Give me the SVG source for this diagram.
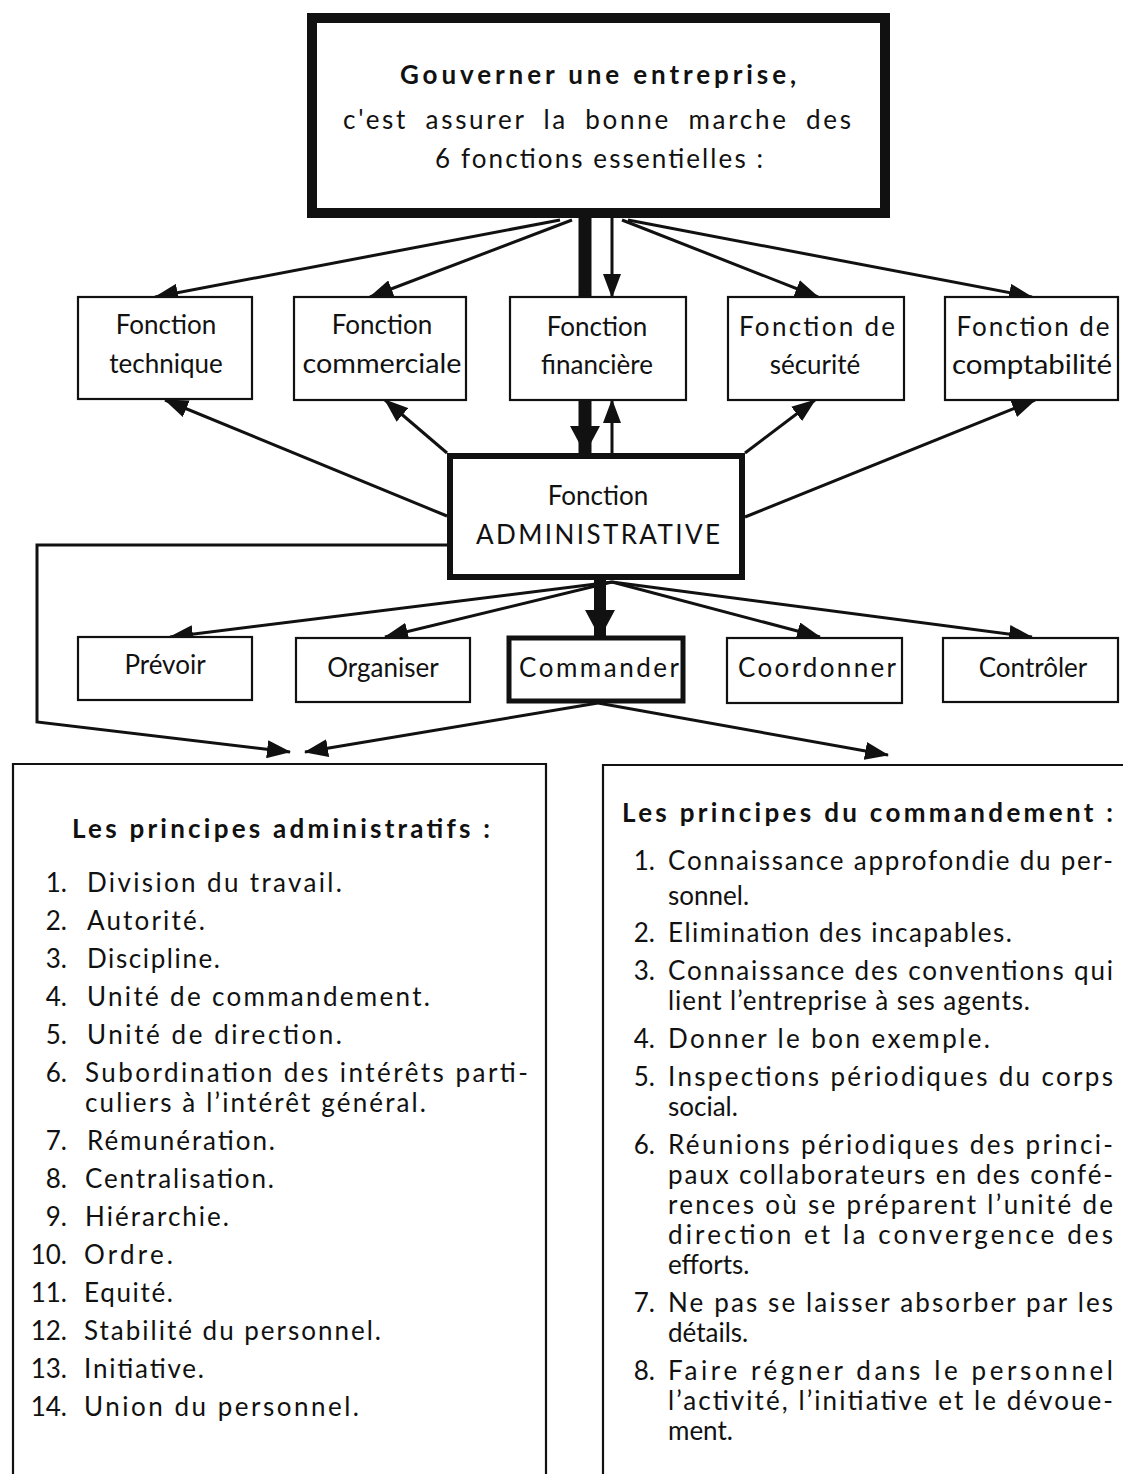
<svg xmlns="http://www.w3.org/2000/svg" width="1123" height="1474" viewBox="0 0 1123 1474">
<defs>
<style>
text{font-family:Lato,"Liberation Sans",sans-serif;fill:#111;font-size:26px}
.b{font-weight:bold}
.c{text-anchor:middle}
.n{text-anchor:end}
.box{fill:#fff;stroke:#111;stroke-width:2.2}
.thick{fill:#fff;stroke:#111;stroke-width:6}
.ln{fill:none;stroke:#111;stroke-width:3}
</style>
<marker id="ah" markerUnits="userSpaceOnUse" markerWidth="24" markerHeight="18" refX="23" refY="9" orient="auto"><path d="M0,0 L24,9 L0,18 z" fill="#111"/></marker>
<marker id="ahT" markerUnits="userSpaceOnUse" markerWidth="28" markerHeight="30" refX="27" refY="15" orient="auto"><path d="M0,0 L28,15 L0,30 z" fill="#111"/></marker>
</defs>
<rect width="1123" height="1474" fill="#fff"/>

<g id="connectors">
<line class="ln" x1="560" y1="220" x2="155" y2="297" marker-end="url(#ah)"/>
<line class="ln" x1="572" y1="220" x2="370" y2="297" marker-end="url(#ah)"/>
<line class="ln" x1="585" y1="218" x2="585" y2="453" style="stroke-width:13" marker-end="url(#ahT)"/>
<line class="ln" x1="612" y1="218" x2="612" y2="297" marker-end="url(#ah)"/>
<line class="ln" x1="612" y1="453" x2="612" y2="400" marker-end="url(#ah)"/>
<line class="ln" x1="622" y1="220" x2="818" y2="297" marker-end="url(#ah)"/>
<line class="ln" x1="628" y1="220" x2="1032" y2="297" marker-end="url(#ah)"/>
<line class="ln" x1="447" y1="516" x2="165" y2="400" marker-end="url(#ah)"/>
<line class="ln" x1="447" y1="453" x2="385" y2="400" marker-end="url(#ah)"/>
<line class="ln" x1="745" y1="453" x2="815" y2="400" marker-end="url(#ah)"/>
<line class="ln" x1="745" y1="517" x2="1035" y2="400" marker-end="url(#ah)"/>
<line class="ln" x1="600" y1="580" x2="600" y2="637" style="stroke-width:12" marker-end="url(#ahT)"/>
<line class="ln" x1="612" y1="582" x2="170" y2="637" marker-end="url(#ah)"/>
<line class="ln" x1="612" y1="582" x2="385" y2="637" marker-end="url(#ah)"/>
<line class="ln" x1="612" y1="582" x2="820" y2="637" marker-end="url(#ah)"/>
<line class="ln" x1="612" y1="582" x2="1032" y2="637" marker-end="url(#ah)"/>
<path class="ln" d="M447,545 H37 V722 L290,752" marker-end="url(#ah)"/>
<line class="ln" x1="598" y1="703" x2="305" y2="752" marker-end="url(#ah)"/>
<line class="ln" x1="598" y1="703" x2="888" y2="755" marker-end="url(#ah)"/>
</g>

<g id="top">
<rect x="312" y="18" width="573" height="195" fill="#fff" stroke="#111" stroke-width="10"/>
<text class="b" x="400" y="84" textLength="396" lengthAdjust="spacing">Gouverner une entreprise,</text>
<text x="343" y="129" textLength="508" lengthAdjust="spacing" style="word-spacing:8px">c'est assurer la bonne marche des</text>
<text x="435" y="168" textLength="328" lengthAdjust="spacing">6 fonctions essentielles :</text>
</g>

<g id="f-technique">
<rect class="box" x="78" y="297" width="174" height="102"/>
<text class="c" x="166" y="334">Fonction</text>
<text class="c" x="166" y="373">technique</text>
</g>
<g id="f-commerciale">
<rect class="box" x="294" y="297" width="172" height="103"/>
<text class="c" x="382" y="334">Fonction</text>
<text class="c" x="382" y="373" textLength="159" lengthAdjust="spacingAndGlyphs">commerciale</text>
</g>
<g id="f-financiere">
<rect class="box" x="510" y="297" width="176" height="103"/>
<text class="c" x="597" y="336">Fonction</text>
<text class="c" x="597" y="374">financière</text>
</g>
<g id="f-securite">
<rect class="box" x="728" y="297" width="176" height="103"/>
<text class="c" x="817" y="336" textLength="156" lengthAdjust="spacing">Fonction de</text>
<text class="c" x="815" y="374">sécurité</text>
</g>
<g id="f-comptabilite">
<rect class="box" x="945" y="297" width="173" height="103"/>
<text class="c" x="1033" y="336" textLength="153" lengthAdjust="spacing">Fonction de</text>
<text class="c" x="1032" y="374" textLength="160" lengthAdjust="spacingAndGlyphs">comptabilité</text>
</g>

<g id="admin">
<rect class="thick" x="450" y="456" width="292" height="121"/>
<text class="c" x="598" y="505">Fonction</text>
<text class="c" x="598" y="544" textLength="244" lengthAdjust="spacing">ADMINISTRATIVE</text>
</g>

<g id="prevoir">
<rect class="box" x="78" y="637" width="174" height="63"/>
<text class="c" x="165" y="674">Prévoir</text>
</g>
<g id="organiser">
<rect class="box" x="296" y="638" width="174" height="64"/>
<text class="c" x="383" y="677">Organiser</text>
</g>
<g id="commander">
<rect x="509" y="638" width="174" height="63" fill="#fff" stroke="#111" stroke-width="5"/>
<text class="c" x="599" y="677" textLength="160" lengthAdjust="spacing">Commander</text>
</g>
<g id="coordonner">
<rect class="box" x="727" y="638" width="175" height="65"/>
<text class="c" x="817" y="677" textLength="158" lengthAdjust="spacing">Coordonner</text>
</g>
<g id="controler">
<rect class="box" x="943" y="638" width="175" height="64"/>
<text class="c" x="1033" y="677">Contrôler</text>
</g>

<g id="principes-administratifs">
<path d="M13,1480 V764 H546 V1480" fill="none" stroke="#111" stroke-width="2.2"/>
<text class="b" x="72" y="838" textLength="418" lengthAdjust="spacing">Les principes administratifs :</text>
<text class="n" x="67" y="892">1.</text><text x="87" y="892" textLength="255" lengthAdjust="spacing">Division du travail.</text>
<text class="n" x="67" y="930">2.</text><text x="87" y="930" textLength="118" lengthAdjust="spacing">Autorité.</text>
<text class="n" x="67" y="968">3.</text><text x="87" y="968" textLength="133" lengthAdjust="spacing">Discipline.</text>
<text class="n" x="67" y="1006">4.</text><text x="87" y="1006" textLength="343" lengthAdjust="spacing">Unité de commandement.</text>
<text class="n" x="67" y="1044">5.</text><text x="87" y="1044" textLength="255" lengthAdjust="spacing">Unité de direction.</text>
<text class="n" x="67" y="1082">6.</text><text x="85" y="1082" textLength="443" lengthAdjust="spacing">Subordination des intérêts parti-</text>
<text x="85" y="1112" textLength="341" lengthAdjust="spacing">culiers à l’intérêt général.</text>
<text class="n" x="67" y="1150">7.</text><text x="87" y="1150" textLength="188" lengthAdjust="spacing">Rémunération.</text>
<text class="n" x="67" y="1188">8.</text><text x="85" y="1188" textLength="189" lengthAdjust="spacing">Centralisation.</text>
<text class="n" x="67" y="1226">9.</text><text x="85" y="1226" textLength="144" lengthAdjust="spacing">Hiérarchie.</text>
<text class="n" x="67" y="1264">10.</text><text x="84" y="1264" textLength="89" lengthAdjust="spacing">Ordre.</text>
<text class="n" x="67" y="1302">11.</text><text x="84" y="1302" textLength="89" lengthAdjust="spacing">Equité.</text>
<text class="n" x="67" y="1340">12.</text><text x="84" y="1340" textLength="297" lengthAdjust="spacing">Stabilité du personnel.</text>
<text class="n" x="67" y="1378">13.</text><text x="84" y="1378" textLength="120" lengthAdjust="spacing">Initiative.</text>
<text class="n" x="67" y="1416">14.</text><text x="84" y="1416" textLength="275" lengthAdjust="spacing">Union du personnel.</text>
</g>

<g id="principes-commandement">
<path d="M603,1480 V765 H1130" fill="none" stroke="#111" stroke-width="2.2"/>
<text class="b" x="622" y="822" textLength="491" lengthAdjust="spacing">Les principes du commandement :</text>
<text class="n" x="655" y="870">1.</text><text x="668" y="870" textLength="445" lengthAdjust="spacing">Connaissance approfondie du per-</text>
<text x="668" y="905">sonnel.</text>
<text class="n" x="655" y="942">2.</text><text x="668" y="942" textLength="344" lengthAdjust="spacing">Elimination des incapables.</text>
<text class="n" x="655" y="980">3.</text><text x="668" y="980" textLength="445" lengthAdjust="spacing">Connaissance des conventions qui</text>
<text x="668" y="1010" textLength="362" lengthAdjust="spacing">lient l’entreprise à ses agents.</text>
<text class="n" x="655" y="1048">4.</text><text x="668" y="1048" textLength="322" lengthAdjust="spacing">Donner le bon exemple.</text>
<text class="n" x="655" y="1086">5.</text><text x="668" y="1086" textLength="445" lengthAdjust="spacing">Inspections périodiques du corps</text>
<text x="668" y="1116">social.</text>
<text class="n" x="655" y="1154">6.</text><text x="668" y="1154" textLength="445" lengthAdjust="spacing">Réunions périodiques des princi-</text>
<text x="668" y="1184" textLength="445" lengthAdjust="spacing">paux collaborateurs en des confé-</text>
<text x="668" y="1214" textLength="445" lengthAdjust="spacing">rences où se préparent l’unité de</text>
<text x="668" y="1244" textLength="445" lengthAdjust="spacing">direction et la convergence des</text>
<text x="668" y="1274">efforts.</text>
<text class="n" x="655" y="1312">7.</text><text x="668" y="1312" textLength="445" lengthAdjust="spacing">Ne pas se laisser absorber par les</text>
<text x="668" y="1342">détails.</text>
<text class="n" x="655" y="1380">8.</text><text x="668" y="1380" textLength="445" lengthAdjust="spacing">Faire régner dans le personnel</text>
<text x="668" y="1410" textLength="445" lengthAdjust="spacing">l’activité, l’initiative et le dévoue-</text>
<text x="668" y="1440">ment.</text>
</g>
</svg>
